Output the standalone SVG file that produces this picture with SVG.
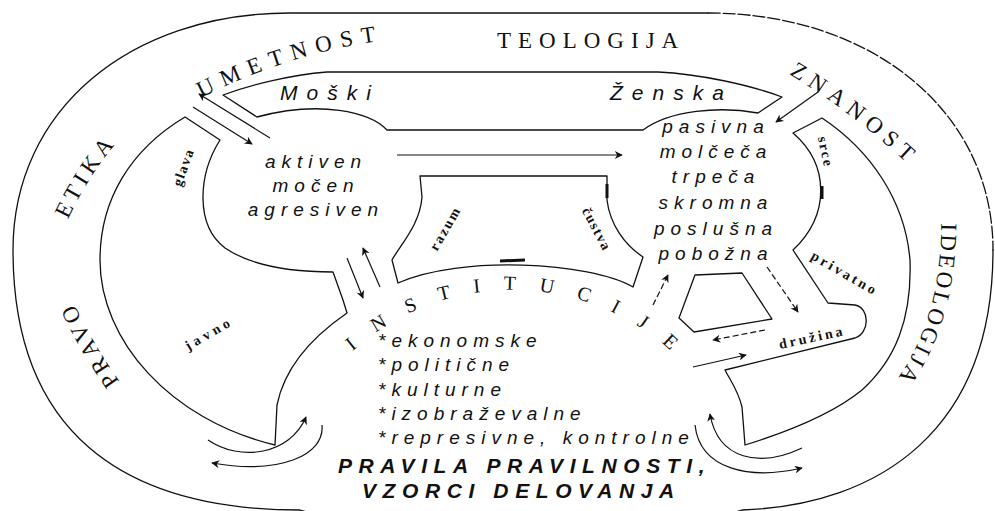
<svg xmlns="http://www.w3.org/2000/svg" width="995" height="511" viewBox="0 0 995 511">
<defs>
<style>
.ln{fill:none;stroke:#111;stroke-width:1.3;stroke-linejoin:round;stroke-linecap:round}
.thk{fill:none;stroke:#111;stroke-width:3}
.ar{fill:none;stroke:#111;stroke-width:1.2;marker-end:url(#ah)}
.da{stroke-dasharray:6 3}
.ring{font-family:"Liberation Serif","Times New Roman",serif;font-size:23px;fill:#111}
.inst{font-family:"Liberation Serif","Times New Roman",serif;font-size:20px;fill:#111;letter-spacing:23px}
.it{font-family:"Liberation Sans",Arial,sans-serif;font-style:italic;font-size:19px;letter-spacing:6px;fill:#111}
.big{font-size:21px;letter-spacing:9px}
.bi{font-family:"Liberation Sans",Arial,sans-serif;font-style:italic;font-weight:bold;font-size:21px;letter-spacing:6.6px;fill:#111}
.sm{font-family:"Liberation Serif","Times New Roman",serif;font-weight:bold;font-size:14px;fill:#111;text-anchor:middle}
</style>
<marker id="ah" viewBox="0 0 10 10" refX="9" refY="5" markerWidth="11" markerHeight="8" markerUnits="userSpaceOnUse" orient="auto">
<path d="M0,0 L10,5 L0,10 L3,5 Z" fill="#111"/>
</marker>
<path id="pEtika" d="M55,250 Q85,170 140,118"/>
<path id="pPravo" d="M150,420 Q85,345 55,255"/>
<path id="pUmet" d="M170,115 Q290,45 420,37"/>
<path id="pZnan" d="M760,58 Q850,105 935,190"/>
<path id="pIdeo" d="M940,190 Q950,330 875,405"/>
<path id="pInst" d="M330.5,374.7 A237,237 0 0 1 693.5,374.7"/>
</defs>
<rect width="995" height="511" fill="#fff"/>

<g id="outer-ring">
<path class="ln" d="M708,13 L290,13 C130,13 13,110 13,250 C13,430 120,510 300,510 C400,540 650,540 742,510 C880,505 993,430 993,250"/>
<path class="ln" stroke-dasharray="12 3" d="M708,13 C870,13 993,110 993,250"/>
<text class="ring" letter-spacing="4.7"><textPath href="#pEtika" startOffset="50%" text-anchor="middle">ETIKA</textPath></text>
<text class="ring" letter-spacing="3.7"><textPath href="#pPravo" startOffset="50%" text-anchor="middle">PRAVO</textPath></text>
<text class="ring" letter-spacing="8.5"><textPath href="#pUmet" startOffset="50%" text-anchor="middle">UMETNOST</textPath></text>
<text class="ring" x="497" y="48" letter-spacing="7">TEOLOGIJA</text>
<text class="ring" letter-spacing="6.6"><textPath href="#pZnan" startOffset="50%" text-anchor="middle">ZNANOST</textPath></text>
<text class="ring" letter-spacing="3"><textPath href="#pIdeo" startOffset="50%" text-anchor="middle">IDEOLOGIJA</textPath></text>
</g>

<g id="moski-zenska">
<path class="ln" d="M327,72 L658,72 C700,74 750,85 782,97 L758,113 C720,106 670,110 643,130 L387,130 C370,112 320,100 257,117 L223,95 C250,85 290,75 327,72 Z"/>
<text class="it big" x="280" y="100">Moški</text>
<text class="it big" x="610" y="100">Ženska</text>
</g>

<g id="left-region">
<path class="ln" d="M185,117 C130,150 100,200 100,260 C100,340 170,420 275,445 L277,405 C285,365 315,335 347,313 L343,300 L333,272 C290,272 250,265 225,248 C195,225 198,175 220,140 Z"/>
<text class="sm" letter-spacing="1.5" transform="translate(183,167) rotate(-70)" y="5">glava</text>
<text class="sm" letter-spacing="4" transform="translate(209,333) rotate(-30)" y="5">javno</text>
</g>

<g id="male-traits">
<text class="it" text-anchor="middle" x="316" y="168">aktiven</text>
<text class="it" text-anchor="middle" x="316" y="192">močen</text>
<text class="it" text-anchor="middle" x="316" y="216">agresiven</text>
</g>

<g id="female-traits">
<text class="it" text-anchor="middle" x="716" y="133">pasivna</text>
<text class="it" text-anchor="middle" x="716" y="158">molčeča</text>
<text class="it" text-anchor="middle" x="716" y="183">trpeča</text>
<text class="it" text-anchor="middle" x="716" y="209">skromna</text>
<text class="it" text-anchor="middle" x="716" y="235">poslušna</text>
<text class="it" text-anchor="middle" x="716" y="260">pobožna</text>
</g>

<g id="center-shape">
<path class="ln" d="M420,176 L607,176 L607,200 C610,225 625,245 643,257 L633,287 C590,262 460,255 398,283 L392,260 C400,245 420,225 422,197 Z"/>
<path class="thk" d="M607,184 L607,198 M500,261 L525,260"/>
<text class="sm" letter-spacing="2" transform="translate(445,228) rotate(-60)" y="5">razum</text>
<text class="sm" letter-spacing="1.5" transform="translate(597,229) rotate(62)" y="5">čustva</text>
</g>

<g id="right-region">
<path class="ln" d="M793,133 L822,118 C870,150 905,200 910,260 C912,320 895,360 862,390 C840,408 800,428 745,445 L742,407 C738,390 730,380 725,370 L855,338 C870,333 870,308 855,305 L828,303 L793,250 C830,215 830,165 793,133 Z"/>
<path class="thk" d="M822,186 L822,199"/>
<text class="sm" letter-spacing="2" transform="translate(826,152) rotate(78)" y="5">srce</text>
<text class="sm" letter-spacing="3" transform="translate(845,273) rotate(30)" y="5">privatno</text>
<text class="sm" letter-spacing="3" transform="translate(812,337) rotate(-12)" y="5">družina</text>
</g>

<g id="pentagon">
<path class="ln" d="M695,275 L742,273 L772,319 L694,332 L679,318 Z"/>
</g>

<g id="institucije">
<text class="inst"><textPath href="#pInst" startOffset="32">INSTITUCIJE</textPath></text>
<text class="it" x="378" y="347">*ekonomske</text>
<text class="it" x="378" y="371">*politične</text>
<text class="it" x="378" y="396">*kulturne</text>
<text class="it" x="378" y="420">*izobraževalne</text>
<text class="it" x="378" y="444">*represivne, kontrolne</text>
<text class="bi" x="338" y="473">PRAVILA PRAVILNOSTI,</text>
<text class="bi" x="362" y="498" letter-spacing="5.7">VZORCI DELOVANJA</text>
</g>

<g id="connectors">
<path class="ar" d="M270,138 L199,94"/>
<path class="ar" d="M193,107 L252,144"/>
<path class="ar" d="M397,155 L622,155"/>
<path class="ar" d="M818,92 L776,122"/>
<path class="ar" d="M347,258 L363,298"/>
<path class="ar" d="M380,287 L363,248"/>
<path class="ar da" d="M653,305 L668,275"/>
<path class="ar da" d="M767,267 L798,312"/>
<path class="ar da" d="M765,330 L713,340"/>
<path class="ar" d="M693,367 L746,355"/>
<path class="ar" d="M208,440 C240,462 290,455 306,417"/>
<path class="ar" d="M322,425 C325,455 280,475 212,463"/>
<path class="ar" d="M802,448 C760,468 718,460 710,414"/>
<path class="ar" d="M695,425 C700,470 750,480 802,468"/>
</g>
</svg>
